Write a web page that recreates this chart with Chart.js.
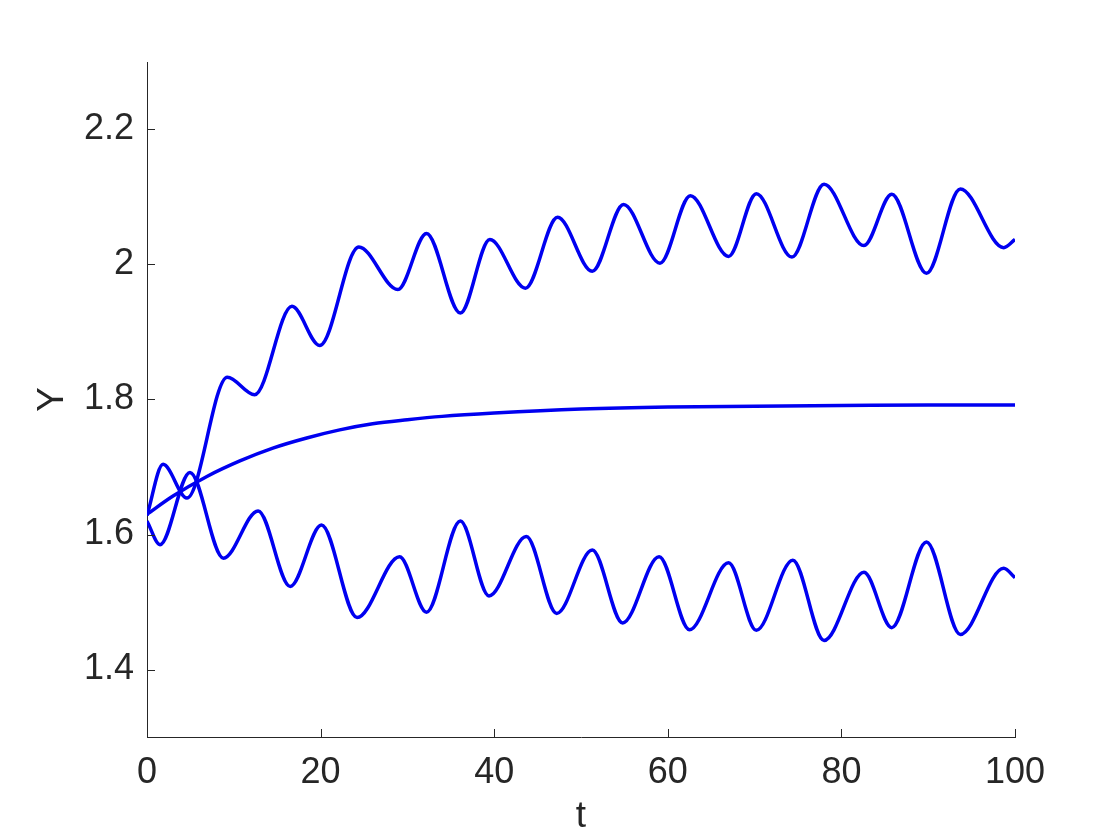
<!DOCTYPE html>
<html>
<head>
<meta charset="utf-8">
<script src="https://cdn.jsdelivr.net/npm/chart.js@4"></script>
<style>
  html, body { margin: 0; padding: 0; background: #ffffff; }
  #chart { display: block; }
</style>
</head>
<body>
<canvas id="chart" width="1120" height="840"></canvas>
<script>
// values (peaks / troughs of the oscillations)
const upperT = [0, 1.85, 4.6, 9.25, 12.4, 16.7, 19.9, 24.4, 28.9, 32.2, 36.1, 39.5, 43.6, 47.3, 51.3, 54.9, 59.1, 62.6, 67.0, 70.2, 74.3, 78.0, 82.6, 85.8, 89.8, 93.7, 98.7, 100];
const upperY = [1.628, 1.704, 1.654, 1.833, 1.807, 1.938, 1.880, 2.026, 1.963, 2.046, 1.928, 2.037, 1.965, 2.070, 1.990, 2.089, 2.002, 2.102, 2.012, 2.105, 2.011, 2.119, 2.028, 2.104, 1.987, 2.112, 2.025, 2.037];

const lowerT = [0, 1.5, 4.95, 8.8, 12.8, 16.5, 20.1, 24.2, 29.1, 32.2, 36.1, 39.4, 43.7, 47.2, 51.3, 54.8, 59.0, 62.5, 67.0, 70.2, 74.4, 78.0, 82.6, 85.8, 89.8, 93.7, 98.7, 100];
const lowerY = [1.620, 1.585, 1.692, 1.565, 1.635, 1.523, 1.614, 1.477, 1.567, 1.485, 1.620, 1.509, 1.597, 1.483, 1.577, 1.469, 1.567, 1.459, 1.558, 1.458, 1.562, 1.443, 1.544, 1.462, 1.589, 1.452, 1.550, 1.536];

const middleT = [0, 3, 6.9, 10.7, 14.5, 18.4, 22.2, 26, 30, 34, 40, 50, 60, 70, 80, 90, 100];
const middleY = [1.630, 1.657, 1.686, 1.709, 1.728, 1.743, 1.755, 1.764, 1.770, 1.775, 1.780, 1.786, 1.789, 1.790, 1.791, 1.792, 1.792];

const xTicks = [0, 20, 40, 60, 80, 100];
const yTicks = [1.4, 1.6, 1.8, 2, 2.2];

const lineBlue = 'rgb(0, 0, 240)';
const axisGray = '#262626';
const fontFamily = "'Liberation Sans', Arial, Helvetica, sans-serif";

function toPoints(ts, ys) {
    return ts.map((t, i) => ({ x: t, y: ys[i] }));
}

function makeSeries(label, ts, ys) {
    return {
        label: label,
        data: toPoints(ts, ys),
        borderColor: lineBlue,
        borderWidth: 3.5,
        pointRadius: 0,
        fill: false,
        cubicInterpolationMode: 'monotone'
    };
}

// MATLAB style: tick marks pointing into the plot area
const inwardTicks = {
    id: 'inwardTicks',
    afterDraw(chart) {
        const ctx = chart.ctx;
        const area = chart.chartArea;
        const xs = chart.scales.x;
        const ys = chart.scales.y;
        const len = 8;
        ctx.save();
        ctx.strokeStyle = axisGray;
        ctx.lineWidth = 1;
        ctx.beginPath();
        xTicks.forEach(v => {
            const px = Math.round(xs.getPixelForValue(v)) + 0.5;
            ctx.moveTo(px, area.bottom);
            ctx.lineTo(px, area.bottom - len);
        });
        yTicks.forEach(v => {
            const py = Math.round(ys.getPixelForValue(v)) + 0.5;
            ctx.moveTo(area.left, py);
            ctx.lineTo(area.left + len, py);
        });
        ctx.stroke();
        ctx.restore();
    }
};

const ctx_chart = document.getElementById('chart').getContext('2d');
const chart = new Chart(ctx_chart, {
    type: 'line',
    data: {
        datasets: [
            makeSeries('upper', upperT, upperY),
            makeSeries('middle', middleT, middleY),
            makeSeries('lower', lowerT, lowerY)
        ]
    },
    options: {
        responsive: false,
        maintainAspectRatio: false,
        animation: false,
        layout: { padding: { top: 62, right: 105, left: 0, bottom: 0 } },
        scales: {
            x: {
                type: 'linear',
                min: 0,
                max: 100,
                afterBuildTicks: (scale) => { scale.ticks = xTicks.map(v => ({ value: v })); },
                afterFit: (scale) => { scale.height = 103; },
                grid: { display: true, drawOnChartArea: false, drawTicks: false },
                border: { display: true, color: axisGray, width: 1 },
                ticks: {
                    color: axisGray,
                    padding: 14,
                    maxRotation: 0,
                    font: { family: fontFamily, size: 36 },
                    callback: (v) => String(v)
                },
                title: {
                    display: true,
                    text: 't',
                    color: axisGray,
                    padding: { top: 0, bottom: 1 },
                    font: { family: fontFamily, size: 37 }
                }
            },
            y: {
                type: 'linear',
                min: 1.3,
                max: 2.3,
                afterBuildTicks: (scale) => { scale.ticks = yTicks.map(v => ({ value: v })); },
                afterFit: (scale) => { scale.width = 147; },
                grid: { display: true, drawOnChartArea: false, drawTicks: false },
                border: { display: true, color: axisGray, width: 1 },
                ticks: {
                    color: axisGray,
                    padding: 13,
                    font: { family: fontFamily, size: 36 },
                    callback: (v) => String(+v.toFixed(1))
                },
                title: {
                    display: true,
                    text: 'Y',
                    color: axisGray,
                    padding: { top: 31, bottom: 0 },
                    font: { family: fontFamily, size: 37 }
                }
            }
        },
        plugins: {
            legend: { display: false },
            tooltip: { enabled: false }
        }
    },
    plugins: [inwardTicks]
});
</script>
</body>
</html>
